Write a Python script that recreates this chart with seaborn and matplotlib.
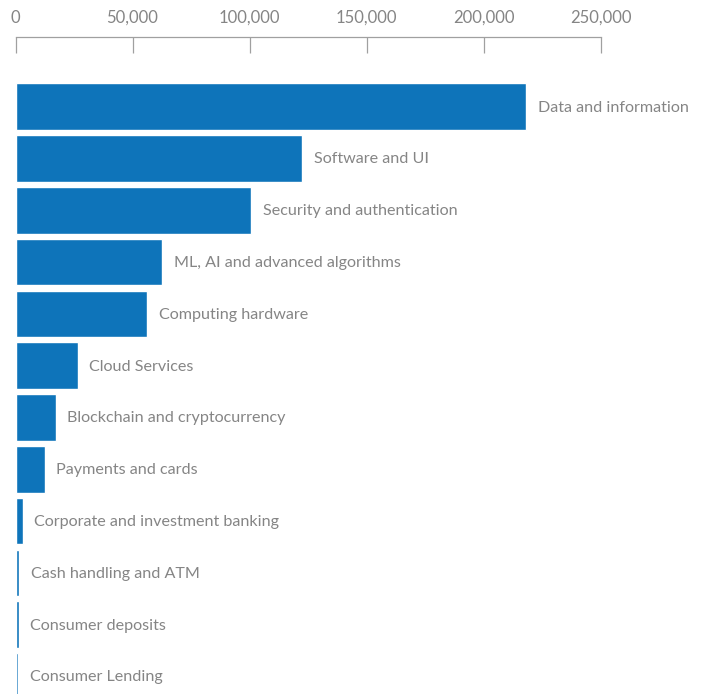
import matplotlib
matplotlib.use("Agg")
import matplotlib.pyplot as plt
from matplotlib.ticker import FuncFormatter
import seaborn as sns
import pandas as pd

# Patent counts by technology area
categories = [
    "Data and information",
    "Software and UI",
    "Security and authentication",
    "ML, AI and advanced algorithms",
    "Computing hardware",
    "Cloud Services",
    "Blockchain and cryptocurrency",
    "Payments and cards",
    "Corporate and investment banking",
    "Cash handling and ATM",
    "Consumer deposits",
    "Consumer Lending",
]
values = [218300, 122500, 100700, 62700, 56300, 26500, 17100, 12400, 3000, 1700, 1300, 1000]
x_ticks = [0, 50000, 100000, 150000, 200000, 250000]

BAR_COLOR = "#0e74ba"
TEXT_COLOR = "#858585"
AXIS_COLOR = "#a0a0a0"

sns.set_style("white")
plt.rcParams["font.family"] = ["Lato", "DejaVu Sans"]

df = pd.DataFrame({"category": categories, "value": values})

fig = plt.figure(figsize=(7.04, 6.94), dpi=100)
W, H = 704, 694
ax = fig.add_axes([15.5 / W, 0, (600.5 - 15.5) / W, (H - 37) / H])

sns.barplot(data=df, x="value", y="category", orient="h", color=BAR_COLOR,
            saturation=1, width=0.9, ax=ax)

ax.set_xlim(0, 250000)
ax.set_ylim(11.339, -1.345)
ax.set_xlabel("")
ax.set_ylabel("")
ax.set_yticks([])

ax.xaxis.tick_top()
ax.set_xticks(x_ticks)
ax.xaxis.set_major_formatter(FuncFormatter(lambda v, _: f"{int(v):,}"))
ax.tick_params(axis="x", direction="in", length=11.5, width=0.9,
               color=AXIS_COLOR, labelcolor=TEXT_COLOR, labelsize=12, pad=8)

for side in ["left", "right", "bottom"]:
    ax.spines[side].set_visible(False)
ax.spines["top"].set_color(AXIS_COLOR)
ax.spines["top"].set_linewidth(0.9)

for i, (cat, val) in enumerate(zip(categories, values)):
    ax.annotate(cat, xy=(val, i), xytext=(8.5, -0.7), textcoords="offset points",
                va="center", ha="left", fontsize=11.6, color=TEXT_COLOR,
                annotation_clip=False)

fig.savefig("out.png", dpi=100)
